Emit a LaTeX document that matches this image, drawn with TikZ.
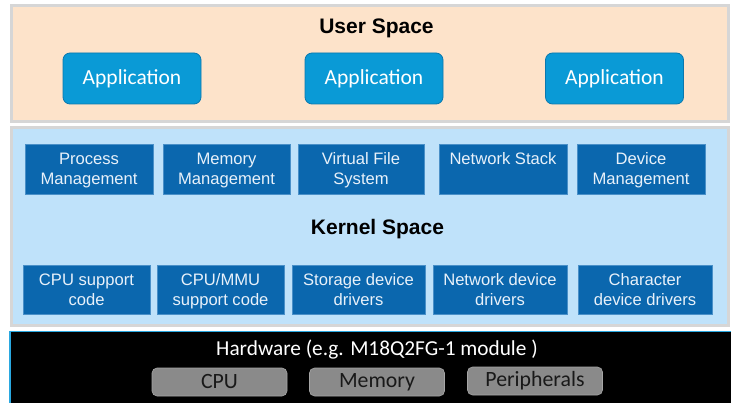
\documentclass[tikz,border=0pt]{standalone}
\usepackage{fontspec}
\setmainfont{Liberation Sans}
\newfontfamily\calib{Carlito}
\definecolor{peach}{HTML}{FDE3CA}
\definecolor{framegray}{HTML}{D6D6D6}
\definecolor{kernbg}{HTML}{BFE2FA}
\definecolor{appblue}{HTML}{0A9AD6}
\definecolor{appedge}{HTML}{0A78AE}
\definecolor{kblue}{HTML}{0B67AE}
\definecolor{kedge}{HTML}{4A90C8}
\definecolor{ktextc}{HTML}{E8F1FA}
\definecolor{hwgray}{HTML}{8A8A8A}
\definecolor{hwedge}{HTML}{A6A6A6}
\definecolor{hwblue}{HTML}{2AA8E0}
\tikzset{
  layer/.style={draw=framegray, line width=3pt},
  appbox/.style={draw=appedge, line width=0.8pt, fill=appblue, rounded corners=7pt,
    minimum width=138pt, minimum height=51pt, inner sep=0pt, text=white,
    font=\calib\fontsize{21.5}{24}\selectfont},
  kbox/.style={draw=kedge, line width=0.6pt, fill=kblue, minimum height=50pt, inner sep=0pt},
  ktext/.style={text=ktextc, align=center, inner sep=0pt, anchor=north,
    font=\fontsize{16.6}{20}\selectfont},
  title/.style={font=\bfseries\fontsize{21}{24}\selectfont, text=black, inner sep=0pt},
  graybox/.style={draw=hwedge, line width=0.6pt, fill=hwgray, rounded corners=5pt,
    minimum width=135pt, minimum height=28pt, inner sep=0pt, text=black!90,
    font=\calib\fontsize{21.8}{24}\selectfont},
}
\begin{document}
\begin{tikzpicture}[x=1pt,y=-1pt]
\useasboundingbox (0,0) rectangle (731,403);
\clip (0,0) rectangle (731,403);
\fill[white] (0,0) rectangle (731,403);
% user space
\draw[layer, fill=peach] (11.5,5.5) rectangle (728.5,121.5);
\node[title] (ut) at (376.5,28) {User Space};
\node[appbox] (a1) at (132,78.5) {Application};
\node[appbox] (a2) at (374,78.5) {Application};
\node[appbox] (a3) at (614.5,78.5) {Application};
% kernel space
\draw[layer, fill=kernbg] (11.5,127.5) rectangle (728.5,325.5);
\node[title] (kt) at (377.5,229) {Kernel Space};
\node[kbox, minimum width=128pt] (k1) at (89,169) {};
\node[kbox, minimum width=127pt] (k2) at (226.5,169) {};
\node[kbox, minimum width=126pt] (k3) at (361,169) {};
\node[kbox, minimum width=128pt] (k4) at (503,169) {};
\node[kbox, minimum width=128pt] (k5) at (641,169) {};
\node[ktext] (k1t) at ([yshift=-9pt]k1.north) {Process\\Management};
\node[ktext] (k2t) at ([yshift=-9pt]k2.north) {Memory\\Management};
\node[ktext] (k3t) at ([yshift=-9pt]k3.north) {Virtual File\\System};
\node[ktext] (k4t) at ([yshift=-9pt]k4.north) {Network Stack};
\node[ktext] (k5t) at ([yshift=-9pt]k5.north) {Device\\Management};
\node[kbox, minimum width=127pt, minimum height=49pt] (d1) at (86.5,289.5) {};
\node[kbox, minimum width=127pt, minimum height=49pt] (d2) at (220.5,289.5) {};
\node[kbox, minimum width=133pt, minimum height=49pt] (d3) at (358.5,289.5) {};
\node[kbox, minimum width=134pt, minimum height=49pt] (d4) at (500,289.5) {};
\node[kbox, minimum width=134pt, minimum height=49pt] (d5) at (645,289.5) {};
\node[ktext] (d1t) at ([yshift=-9pt]d1.north) {CPU support\\code};
\node[ktext] (d2t) at ([yshift=-9pt]d2.north) {CPU/MMU\\support code};
\node[ktext] (d3t) at ([yshift=-9pt]d3.north) {Storage device\\drivers};
\node[ktext] (d4t) at ([yshift=-9pt]d4.north) {Network device\\drivers};
\node[ktext] (d5t) at ([yshift=-9pt]d5.north) {Character\\device drivers};
% hardware
\draw[draw=hwblue, line width=1.2pt, fill=black] (10,331.5) rectangle (740,410);
\node[text=white, inner sep=0pt, font=\calib\fontsize{21.3}{24}\selectfont] (hw) at (377,350) {Hardware (e.g. M18Q2FG-1 module )};
\node[graybox] (cpu) at (219.5,382) {CPU};
\node[graybox] (mem) at (377,382) {Memory};
\node[graybox] (per) at (535,381) {Peripherals};
\end{tikzpicture}
\end{document}
